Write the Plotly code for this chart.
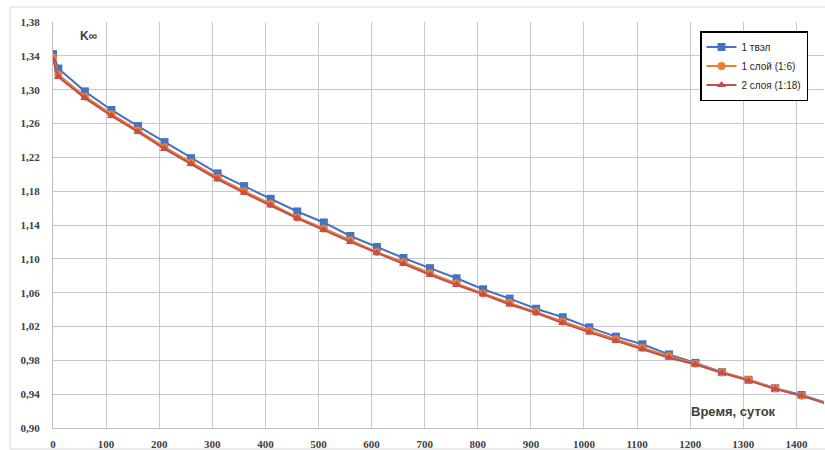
import plotly.graph_objects as go

days = [0, 10, 60, 110, 160, 210, 260, 310, 360, 410, 460, 510, 560, 610, 660, 710,
        760, 810, 860, 910, 960, 1010, 1060, 1110, 1160, 1210, 1260, 1310, 1360, 1410, 1460]

k_1tvel = [1.342, 1.325, 1.298, 1.276, 1.257, 1.238, 1.219, 1.201, 1.186, 1.171, 1.156,
           1.143, 1.127, 1.114, 1.101, 1.089, 1.077, 1.064, 1.053, 1.041, 1.031, 1.019,
           1.008, 0.999, 0.987, 0.977, 0.966, 0.957, 0.947, 0.939, 0.929]
k_1sloy = [1.338, 1.318, 1.292, 1.271, 1.252, 1.232, 1.214, 1.196, 1.180, 1.165, 1.149,
           1.136, 1.122, 1.108, 1.096, 1.083, 1.071, 1.059, 1.048, 1.037, 1.026, 1.015,
           1.005, 0.995, 0.985, 0.976, 0.966, 0.957, 0.947, 0.938, 0.929]
k_2sloya = [1.335, 1.315, 1.290, 1.269, 1.250, 1.230, 1.212, 1.194, 1.178, 1.163, 1.148,
            1.134, 1.120, 1.107, 1.094, 1.081, 1.069, 1.058, 1.046, 1.036, 1.024, 1.013,
            1.003, 0.993, 0.983, 0.975, 0.965, 0.956, 0.946, 0.938, 0.928]

names = ["1 твэл", "1 слой (1:6)", "2 слоя (1:18)"]
colors = ["#4472C4", "#ED7D31", "#C0504D"]
symbols = ["square", "circle", "triangle-up"]
series = [k_1tvel, k_1sloy, k_2sloya]

y_ticks = [0.90, 0.94, 0.98, 1.02, 1.06, 1.10, 1.14, 1.18, 1.22, 1.26, 1.30, 1.34, 1.38]
x_ticks = list(range(0, 1401, 100))

fig = go.Figure()
for name, col, sym, vals in zip(names, colors, symbols, series):
    fig.add_trace(go.Scatter(
        x=days, y=vals, name=name, mode="lines+markers",
        line=dict(color=col, width=2),
        marker=dict(symbol=sym, size=8, color=col),
    ))

W = 825 - 53 - 1
H = 450 - 22 - 22

fig.update_layout(
    width=825, height=450,
    margin=dict(l=53, r=1, t=22, b=22),
    paper_bgcolor="white", plot_bgcolor="white",
    separators=", ",
    showlegend=True,
    legend=dict(
        x=(700 - 53) / W, y=(428 - 31) / H, xanchor="left", yanchor="top",
        bordercolor="black", borderwidth=1.5, bgcolor="white",
        font=dict(family="Liberation Sans", size=10, color="#262626"),
        tracegroupgap=0, itemwidth=30,
    ),
    xaxis=dict(
        range=[0, 1452], tickvals=x_ticks, ticktext=[str(v) for v in x_ticks],
        showgrid=True, gridcolor="#C8C8C8", gridwidth=1,
        showline=True, linecolor="#BFBFBF", zeroline=False,
        ticks="", ticklabelstandoff=6,
        tickfont=dict(family="Liberation Serif", size=11, color="#404040", weight="bold"),
    ),
    yaxis=dict(
        range=[0.90, 1.38], tickvals=y_ticks, ticktext=[f"{v:.2f}".replace(".", ",") for v in y_ticks],
        showgrid=True, gridcolor="#C8C8C8", gridwidth=1,
        showline=True, linecolor="#BFBFBF", zeroline=False,
        ticks="", ticklabelstandoff=10,
        tickfont=dict(family="Liberation Serif", size=11, color="#404040", weight="bold"),
    ),
    annotations=[
        dict(text="<b>K∞</b>", xref="paper", yref="paper",
             x=(78 - 53) / W, y=(428 - 36) / H, xanchor="left", yanchor="middle",
             showarrow=False, font=dict(family="Liberation Sans", size=12, color="#404040")),
        dict(text="<b>Время, суток</b>", xref="paper", yref="paper",
             x=(778 - 53) / W, y=(428 - 411) / H, xanchor="right", yanchor="middle",
             showarrow=False, font=dict(family="Liberation Sans", size=13, color="#404040")),
    ],
    shapes=[
        dict(type="rect", xref="paper", yref="paper",
             x0=(10 - 53) / W, x1=(826 - 53) / W, y0=(428 - 449) / H, y1=(428 - 7) / H,
             line=dict(color="#D9D9D9", width=1), layer="below"),
    ],
)

fig.write_html("out.html")
